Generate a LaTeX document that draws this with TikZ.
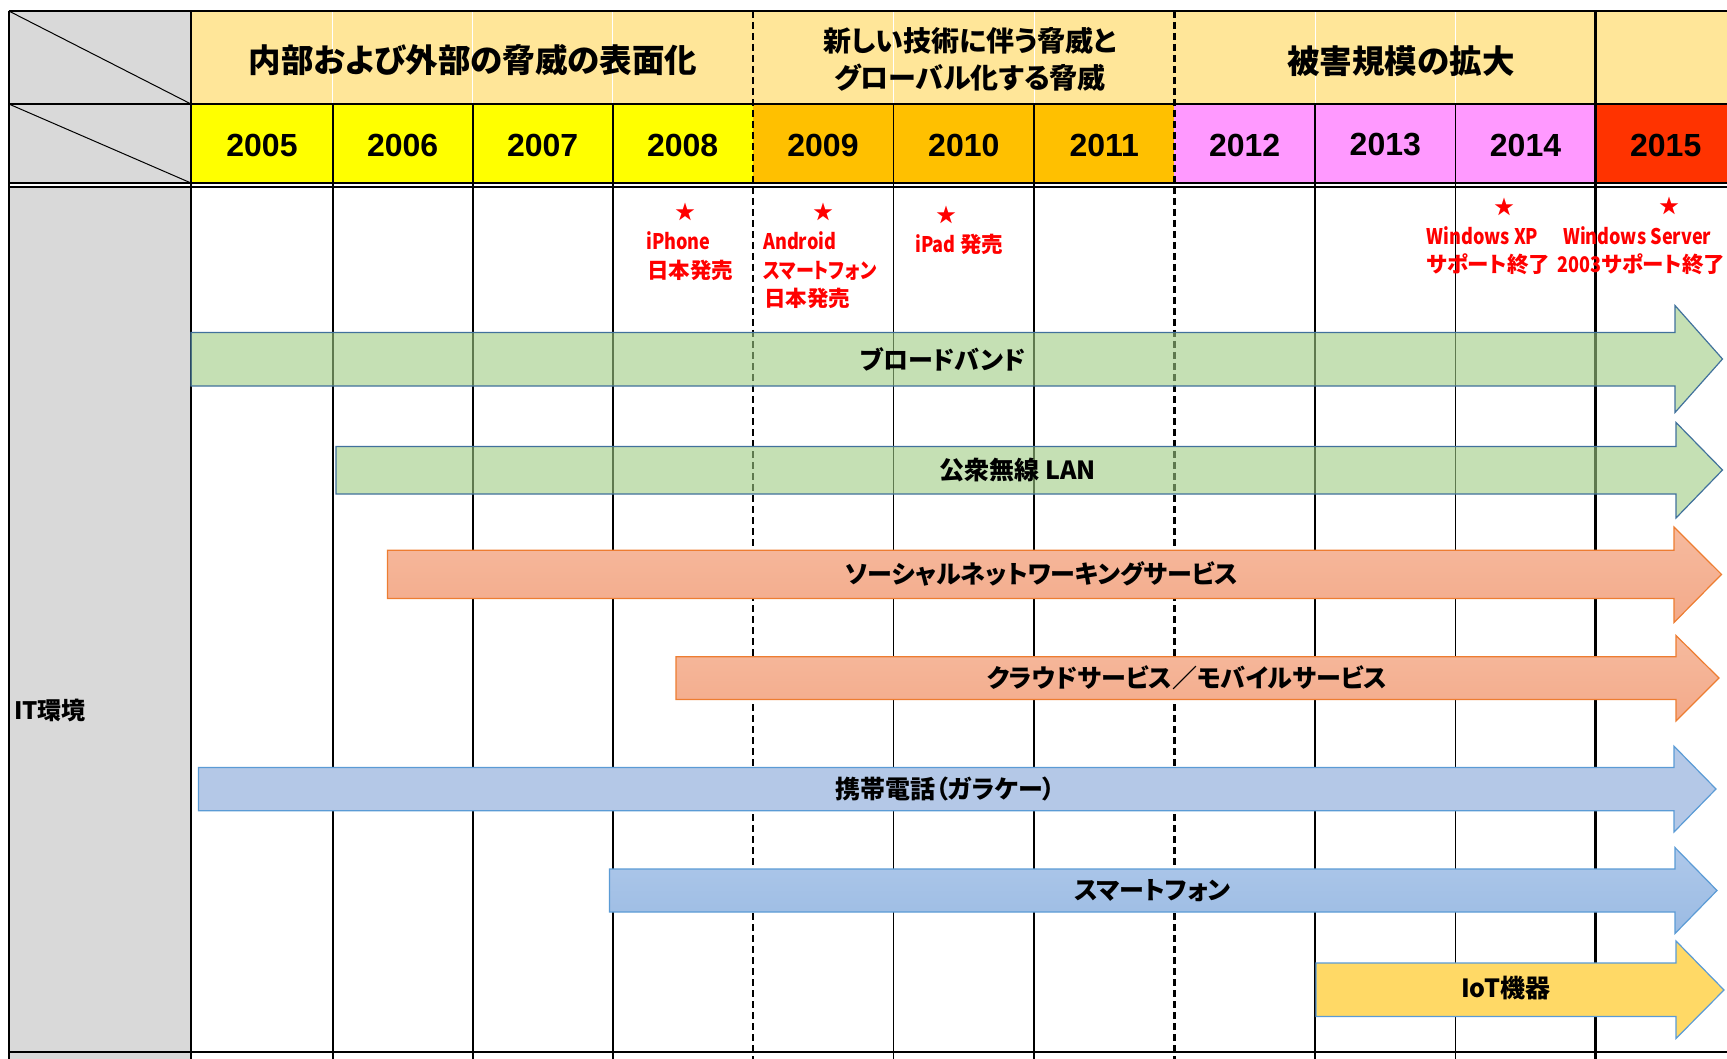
\documentclass[tikz,border=0pt]{standalone}
\usepackage{fontspec}
\usepackage{tikz}
\usetikzlibrary{positioning}
\newfontfamily\jp[RawFeature=+palt]{Noto Sans CJK JP}
\newfontfamily\jpn[FakeStretch=0.84,RawFeature=+palt]{Noto Sans CJK JP}
\newfontfamily\yr{Liberation Sans}
\definecolor{cellgray}{HTML}{D9D9D9}
\definecolor{hdrlight}{HTML}{FFE699}
\definecolor{yrA}{HTML}{FFFF00}
\definecolor{yrB}{HTML}{FFC000}
\definecolor{yrC}{HTML}{FF99FF}
\definecolor{yrD}{HTML}{FF3300}
\definecolor{grnfill}{RGB}{158,203,130}
\definecolor{grnline}{HTML}{41719C}
\definecolor{orgline}{HTML}{ED7D31}
\definecolor{orgtop}{HTML}{F6BA9E}
\definecolor{orgbot}{HTML}{F3AA8A}
\definecolor{bluline}{HTML}{5B9BD5}
\definecolor{blufill}{HTML}{B4C8E7}
\definecolor{blutop}{HTML}{AEC8EA}
\definecolor{blubot}{HTML}{9BBBE3}
\definecolor{iotfill}{HTML}{FFD966}
\definecolor{notered}{HTML}{FF0000}

\begin{document}
\begin{tikzpicture}[x=1pt, y=-1pt,
   grid/.style = {line width=1.9pt},
  thick/.style = {line width=2.6pt},
    dsh/.style = {line width=2.6pt, dash pattern=on 7pt off 4pt},
      H/.style = {font=\jp\bfseries\fontsize{32.5}{37}\selectfont, align=center, inner sep=0pt},
      Y/.style = {font=\yr\bfseries\fontsize{32}{36}\selectfont, inner sep=0pt},
      A/.style = {font=\jp\bfseries\fontsize{25}{28}\selectfont, inner sep=0pt},
      R/.style = {font=\jp\bfseries\fontsize{21.5}{26}\selectfont, text=notered, inner sep=0pt, anchor=base west},
      S/.style = {font=\jp\fontsize{20}{20}\selectfont, text=notered, inner sep=0pt},
      G/.style = {draw=grnline, fill=grnfill, fill opacity=0.6, line width=1.2pt},
      O/.style = {draw=orgline, top color=orgtop, bottom color=orgbot, line width=1.2pt},
      B/.style = {draw=bluline, line width=1.2pt}
                    ]
\useasboundingbox (0,0) rectangle (1727,1059);
\clip (0,0) rectangle (1727,1059);

% cells
\fill[cellgray] (8.8,11) rectangle (191,183) (8.8,187) rectangle (191,1059);
\fill[hdrlight] (191,11) rectangle (1727,104);
\fill[yrA] (191,104) rectangle (752.8,183);
\fill[yrB] (752.8,104) rectangle (1174.2,183);
\fill[yrC] (1174.2,104) rectangle (1595.5,183);
\fill[yrD] (1595.5,104) rectangle (1727,183);
\draw[white, line width=1pt] (332.7,11) -- (332.7,104) (472.6,11) -- (472.6,104)
     (612.7,11) -- (612.7,104) (893.5,11) -- (893.5,104) (1034.2,11) -- (1034.2,104)
     (1315.2,11) -- (1315.2,104) (1455.5,11) -- (1455.5,104);

% grid
\draw[grid] (332.7,104) -- (332.7,1059) (472.6,104) -- (472.6,1059)
     (612.7,104) -- (612.7,1059) (893.5,104) -- (893.5,1059) (1034.2,104) -- (1034.2,1059)
     (1315.2,104) -- (1315.2,1059) (1455.5,104) -- (1455.5,1059);
\draw[dsh] (752.8,11) -- (752.8,1059) (1174.2,11) -- (1174.2,1059);
\draw[thick] (191,11) -- (191,1059) (1595.5,11) -- (1595.5,1059) (8.8,11) -- (8.8,1059);
\draw[line width=2pt] (8.8,11) -- (1727,11) (8.8,104) -- (1727,104)
     (8.8,183) -- (1727,183) (8.8,187) -- (1727,187) (8.8,1051.5) -- (1727,1051.5);
\draw[line width=1pt] (8.8,11) -- (191,104) (8.8,104) -- (191,183);

% header
\node[H] (h1) at (473,60) {内部および外部の脅威の表面化};
\node[H, font=\jp\bfseries\fontsize{28}{37}\selectfont] (h2) at (970,59.5) {新しい技術に伴う脅威と\\グローバル化する脅威};
\node[H] (h3) at (1401,61) {被害規模の拡大};

\node[Y] (y2005) at (262,145) {2005};
\node[Y] (y2006) at (402.6,145) {2006};
\node[Y] (y2007) at (542.6,145) {2007};
\node[Y] (y2008) at (682.7,145) {2008};
\node[Y] (y2009) at (823,145) {2009};
\node[Y] (y2010) at (963.8,145) {2010};
\node[Y] (y2011) at (1104.2,145) {2011};
\node[Y] (y2012) at (1244.7,145) {2012};
\node[Y] (y2013) at (1385.3,145) {2013};
\node[Y] (y2014) at (1525.5,145) {2014};
\node[Y] (y2015) at (1665.7,145) {2015};

\node[A, anchor=west, font=\jp\bfseries\fontsize{24}{28}\selectfont] (it) at (14,710) {IT環境};

% notes
\node[S] (s1) at (685,211.7) {★};
\node[R] (n1a) at (646,250) {\jpn iPhone};
\node[R] (n1b) at (647,278.5) {日本発売};
\node[S] (s2) at (823.3,211.7) {★};
\node[R] (n2a) at (763,249.5) {\jpn Android};
\node[R] (n2b) at (763,278.5) {\jpn スマートフォン};
\node[R] (n2c) at (764,306.5) {日本発売};
\node[S] (s3) at (946.7,215) {★};
\node[R] (n3a) at (915,253) {{\jpn iPad} 発売};
\node[S] (s4) at (1504,206.5) {★};
\node[R] (n4a) at (1426.5,245) {\jpn Windows XP};
\node[R] (n4b) at (1426.5,272.5) {サポート終了};
\node[S] (s5) at (1669,205.5) {★};
\node[R] (n5a) at (1563,245) {\jpn Windows Server};
\node[R] (n5b) at (1557.5,272.5) {{\jpn 2003}サポート終了};

% arrows
\draw[G] (191,332.5) -- (1675,332.5) -- (1675,305.5) -- (1722.5,359) -- (1675,412.5) -- (1675,386) -- (191,386) -- cycle;
\draw[G] (336,446.5) -- (1676,446.5) -- (1676,422.5) -- (1722.5,470) -- (1676,518) -- (1676,494) -- (336,494) -- cycle;
\draw[O] (387.5,550.3) -- (1674,550.3) -- (1674,527) -- (1721.5,574.4) -- (1674,622.5) -- (1674,598.4) -- (387.5,598.4) -- cycle;
\draw[O] (676,656.8) -- (1676,656.8) -- (1676,635.5) -- (1719,678) -- (1676,721) -- (1676,699.4) -- (676,699.4) -- cycle;
\draw[B, fill=blufill] (198.5,767.5) -- (1674,767.5) -- (1674,746.2) -- (1716,789) -- (1674,832) -- (1674,810.8) -- (198.5,810.8) -- cycle;
\draw[B, top color=blutop, bottom color=blubot] (609.5,869) -- (1675,869) -- (1675,847.6) -- (1717,890.5) -- (1675,933.5) -- (1675,912) -- (609.5,912) -- cycle;
\draw[B, fill=iotfill] (1316,963) -- (1676,963) -- (1676,941) -- (1724,990) -- (1676,1038.5) -- (1676,1016.5) -- (1316,1016.5) -- cycle;

\node[A] (bb)    at (943,359)    {ブロードバンド};
\node[A] (lan)   at (1018,470)   {公衆無線 LAN};
\node[A] (sns)   at (1042,574.4) {ソーシャルネットワーキングサービス};
\node[A] (cloud) at (1187,678)   {クラウドサービス／モバイルサービス};
\node[A] (feat)  at (945.5,789)  {携帯電話（ガラケー）};
\node[A] (smart) at (1152.6,890.5) {スマートフォン};
\node[A] (iot)   at (1505.6,988) {IoT機器};
\end{tikzpicture}
\end{document}
